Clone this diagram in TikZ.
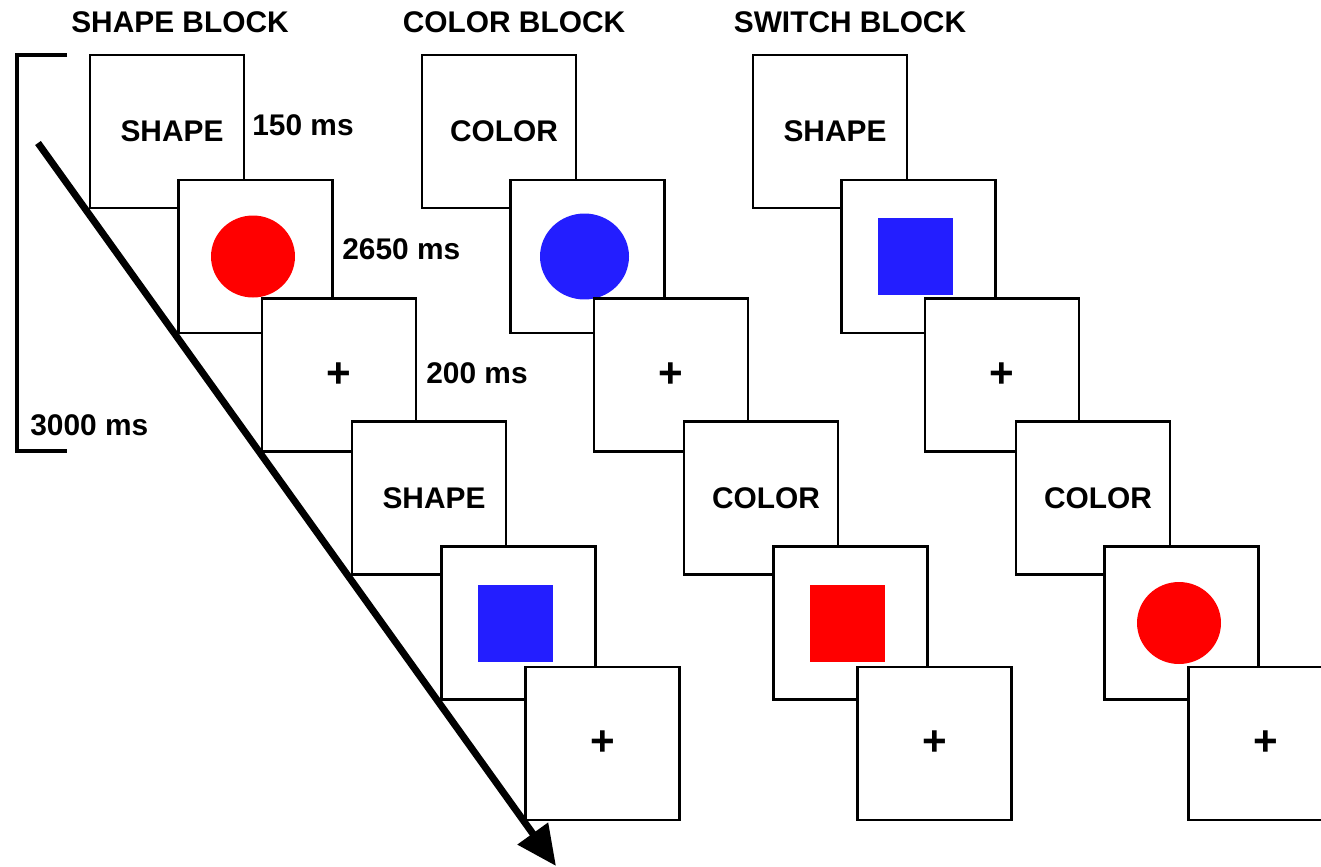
\documentclass[tikz,border=0pt]{standalone}
\usepackage{fontspec}
\setmainfont{Liberation Sans}
\usetikzlibrary{arrows.meta, positioning}

\definecolor{stimred}{RGB}{255,0,0}
\definecolor{stimblue}{RGB}{35,30,255}

\begin{document}
\begin{tikzpicture}[x=0.02cm, y=-0.02cm,
    trial/.style={rectangle, draw, fill=white, line width=1.4pt, minimum width=3.08cm, minimum height=3.06cm, inner sep=0pt, font=\fontsize{17}{20}\selectfont\bfseries},
    cue/.style={execute at begin node=\hspace*{0.2cm}},
    plus/.style={font=\fontsize{24}{26}\selectfont\bfseries},
    lbl/.style={font=\fontsize{17}{20}\selectfont\bfseries, inner sep=0pt},
    redcircle/.style={path picture={\fill[stimred] ([xshift=-0.05cm]path picture bounding box.center) ellipse (0.84cm and 0.82cm);}},
    bluecircle/.style={path picture={\fill[stimblue] ([xshift=-0.06cm]path picture bounding box.center) ellipse (0.89cm and 0.86cm);}},
    redsquare/.style={path picture={\fill[stimred] ([shift={(-0.81cm,-0.77cm)}]path picture bounding box.center) rectangle ++(1.5cm,1.54cm);}},
    bluesquare/.style={path picture={\fill[stimblue] ([shift={(-0.81cm,-0.77cm)}]path picture bounding box.center) rectangle ++(1.5cm,1.54cm);}}]
\clip (0,0) rectangle (1321,866);

% block titles
\node[lbl] (tshape) at (180,22) {SHAPE BLOCK};
\node[lbl] (tcolor) at (514,22) {COLOR BLOCK};
\node[lbl] (tswitch) at (850,22) {SWITCH BLOCK};

% shape block
\node[trial, cue] (shp1) at (167,131.5) {SHAPE};
\node[trial, redcircle] (shp2) at (255.5,256.5) {};
\node[trial, plus] (shp3) at (339,375) {+};
\node[trial, cue] (shp4) at (429,498) {SHAPE};
\node[trial, bluesquare] (shp5) at (518.5,623) {};
\node[trial, plus] (shp6) at (602.5,743.5) {+};

% color block
\node[trial, cue] (col1) at (499,131.5) {COLOR};
\node[trial, bluecircle] (col2) at (587.5,256.5) {};
\node[trial, plus] (col3) at (671,375) {+};
\node[trial, cue] (col4) at (761,498) {COLOR};
\node[trial, redsquare] (col5) at (850.5,623) {};
\node[trial, plus] (col6) at (934.5,743.5) {+};

% switch block
\node[trial, cue] (swi1) at (830,131.5) {SHAPE};
\node[trial, bluesquare] (swi2) at (918.5,256.5) {};
\node[trial, plus] (swi3) at (1002,375) {+};
\node[trial, cue] (swi4) at (1093,498) {COLOR};
\node[trial, redcircle] (swi5) at (1181.5,623) {};
\node[trial, plus] (swi6) at (1265.5,743.5) {+};

% durations
\node[lbl, anchor=west] (d150) at (252,125) {150 ms};
\node[lbl, anchor=west] (d2650) at (342,249) {2650 ms};
\node[lbl, anchor=west] (d200) at (426,373) {200 ms};
\node[lbl, anchor=west] (d3000) at (30,425) {3000 ms};

% trial bracket
\coordinate (brtop) at (67,55);
\coordinate (brbot) at (67,451);
\draw[line width=2.8pt] (brtop) -- (17,55) -- (17,451) -- (brbot);

% time arrow
\coordinate (tstart) at (38,143);
\coordinate (tend) at (556,866);
\draw[line width=0.14cm, -{Triangle[length=0.8cm, width=0.72cm]}] (tstart) -- (tend);
\end{tikzpicture}
\end{document}
